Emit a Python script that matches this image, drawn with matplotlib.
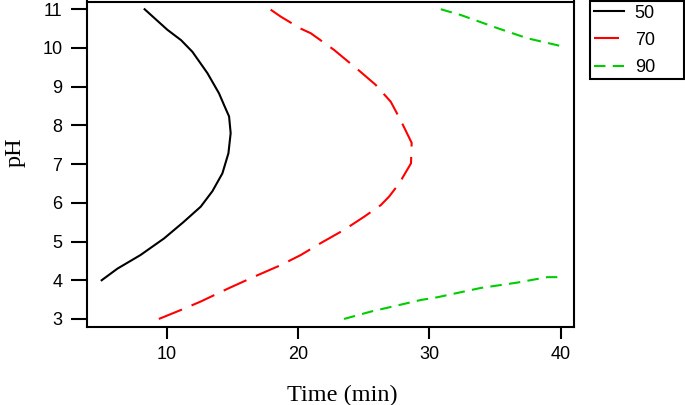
import matplotlib
matplotlib.use('Agg')
from matplotlib import pyplot
from matplotlib.lines import Line2D

# contour levels (time in min, pH)
LEVELS = ['50', '70', '90']

black_ph = [4.0, 4.3, 4.65, 5.08, 5.5, 5.9, 6.3, 6.76, 7.28, 7.8, 8.23,
            8.5, 8.83, 9.35, 9.9, 10.2, 10.47, 11.0]
black_time = [5.05, 6.25, 8.0, 9.8, 11.27, 12.59, 13.48, 14.24, 14.7, 14.87,
              14.75, 14.4, 13.98, 13.1, 11.96, 11.1, 10.05, 8.32]

red_ph = [3.0, 3.23, 3.45, 3.79, 4.09, 4.39, 4.65, 4.96, 5.3, 5.64, 5.94,
          6.16, 6.5, 7.02, 7.55, 8.14, 8.61, 9.05, 9.4, 9.95, 10.38, 10.5,
          10.81, 11.0]
red_time = [9.4, 11.07, 12.59, 14.7, 16.65, 18.68, 20.2, 21.73, 23.5, 25.03,
            26.3, 26.93, 27.7, 28.6, 28.65, 27.8, 27.06, 25.9, 24.7, 22.74,
            20.97, 20.2, 18.68, 17.87]

green_hi_time = [30.87, 32.4, 35.2, 37.46, 40.0]
green_hi_ph = [11.0, 10.85, 10.51, 10.25, 10.05]
green_lo_time = [23.5, 25.54, 29.35, 30.6, 33.9, 36.7, 38.98, 40.0]
green_lo_ph = [3.0, 3.19, 3.49, 3.56, 3.8, 3.94, 4.08, 4.08]

x_ticks = [10, 20, 30, 40]
y_ticks = [3, 4, 5, 6, 7, 8, 9, 10, 11]

W, H = 685, 405
LW = 1.5
STYLES = {
    '50': dict(color='black', linestyle='-'),
    '70': dict(color='#FF0000', linestyle=(0, (12, 5))),
    '90': dict(color='#00CD00', linestyle=(0, (5.5, 3.5))),
}

fig = pyplot.figure(figsize=(W / 100, H / 100), dpi=100)
ax = fig.add_axes([86.7 / W, 1 - 326.7 / H, (574 - 86.7) / W, (326.7 - 1.5) / H])

ax.plot(black_time, black_ph, lw=LW, **STYLES['50'])
ax.plot(red_time, red_ph, lw=LW, **STYLES['70'])
ax.plot(green_hi_time, green_hi_ph, lw=LW, **STYLES['90'])
ax.plot(green_lo_time, green_lo_ph, lw=LW, **STYLES['90'])

ax.set_xlim(3.91, 41.01)
ax.set_ylim(2.8, 11.2)
ax.set_xticks(x_ticks)
ax.set_yticks(y_ticks)
ax.set_xticklabels([str(t) for t in x_ticks], family='Liberation Sans')
ax.set_yticklabels([str(t) for t in y_ticks], family='Liberation Sans')
ax.tick_params(axis='y', length=11.5, width=LW, pad=6.0, labelsize=13)
ax.tick_params(axis='x', length=8.6, width=LW, pad=5.0, labelsize=13)
for sp in ax.spines.values():
    sp.set_linewidth(LW)

fig.text(342.5 / W, 1 - 395 / H, 'Time (min)', family='Liberation Serif',
         fontsize=17.5, ha='center', va='center')
fig.text(15 / W, 1 - 152 / H, 'pH', family='Liberation Serif',
         fontsize=17.5, ha='center', va='center', rotation=90)

handles = [Line2D([], [], lw=LW, **STYLES[k]) for k in LEVELS]
leg = fig.legend(handles, LEVELS, loc='upper left',
                 bbox_to_anchor=(590 / W, 1 - 78 / H, 94 / W, 77 / H),
                 mode='expand', borderaxespad=0, frameon=True, fancybox=False,
                 edgecolor='black', framealpha=1, handlelength=1.66,
                 handletextpad=0.62, borderpad=0.2, labelspacing=0.56,
                 prop={'family': 'Liberation Sans', 'size': 13})
leg.get_frame().set_linewidth(LW)

fig.savefig('out.png', dpi=100)
